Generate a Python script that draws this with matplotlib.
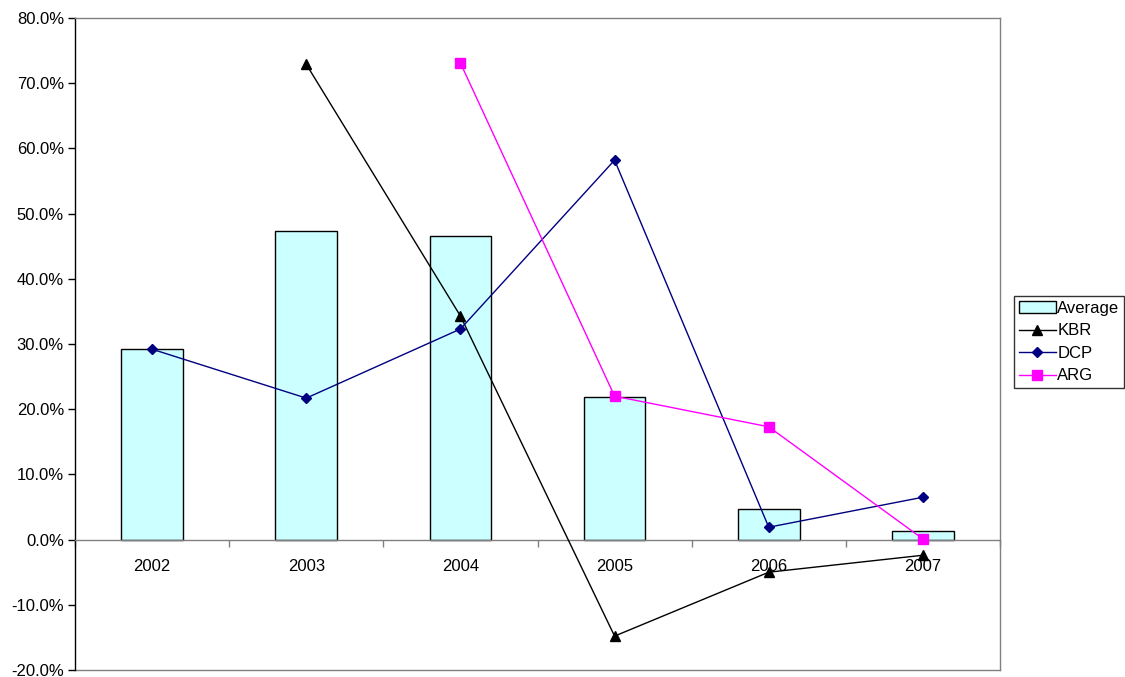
import matplotlib
matplotlib.use("Agg")
import matplotlib.pyplot as plt
import numpy as np

plt.rcParams['font.family'] = ['Liberation Sans', 'DejaVu Sans']

years = ["2002", "2003", "2004", "2005", "2006", "2007"]
average = [29.2, 47.3, 46.6, 21.9, 4.7, 1.3]
kbr = [np.nan, 72.9, 34.3, -14.8, -5.0, -2.4]
dcp = [29.2, 21.7, 32.3, 58.2, 1.9, 6.5]
arg = [np.nan, np.nan, 73.1, 22.0, 17.3, 0.1]
yticks = [-20, -10, 0, 10, 20, 30, 40, 50, 60, 70, 80]

FS = 12

fig = plt.figure(figsize=(11.25, 6.77), dpi=100)
ax = fig.add_axes([75/1125, 7/677, 925/1125, 652/677])
x = np.arange(len(years))

b = ax.bar(x, average, width=0.4, color='#CCFFFF', edgecolor='black', linewidth=1, label='Average', zorder=2)
l1, = ax.plot(x, kbr, color='black', marker='^', markersize=7, linewidth=1, label='KBR', zorder=3)
l2, = ax.plot(x, dcp, color='#000080', marker='D', markersize=5.5, linewidth=1, label='DCP', zorder=3)
l3, = ax.plot(x, arg, color='#FF00FF', marker='s', markersize=7, linewidth=1, label='ARG', zorder=3)

ax.set_xlim(-0.5, len(years) - 0.5)
ax.set_ylim(-20, 80)
ax.set_yticks(yticks)
ax.set_yticklabels([f"{v:.1f}%" for v in yticks])
ax.tick_params(axis='y', direction='out', length=5, width=1, color='black', pad=3, labelsize=FS)

ax.set_xticks(np.arange(-0.5, len(years), 1.0))
ax.set_xticklabels([])
ax.set_xticks(x, minor=True)
ax.set_xticklabels(years, minor=True)
ax.tick_params(axis='x', which='major', direction='out', length=5, width=1, color='#808080')
ax.tick_params(axis='x', which='minor', length=0, pad=14, labelsize=FS)

for s in ['top', 'right']:
    ax.spines[s].set_color('#808080')
    ax.spines[s].set_linewidth(1)
ax.spines['left'].set_color('black')
ax.spines['left'].set_linewidth(1)
ax.spines['bottom'].set_position(('data', 0))
ax.spines['bottom'].set_color('#808080')
ax.spines['bottom'].set_linewidth(1)
ax.axhline(-20, color='#808080', linewidth=1, clip_on=False, zorder=1)

leg = fig.legend([b, l1, l2, l3], ['Average', 'KBR', 'DCP', 'ARG'],
                 loc='upper left', bbox_to_anchor=(1014/1125, 1 - 296/677),
                 fontsize=FS, frameon=True, fancybox=False, borderpad=0.3,
                 labelspacing=0.45, handlelength=2.2, handletextpad=0.1,
                 borderaxespad=0)
leg.get_frame().set_edgecolor('black')
leg.get_frame().set_linewidth(1)

fig.savefig('out.png', dpi=100)
